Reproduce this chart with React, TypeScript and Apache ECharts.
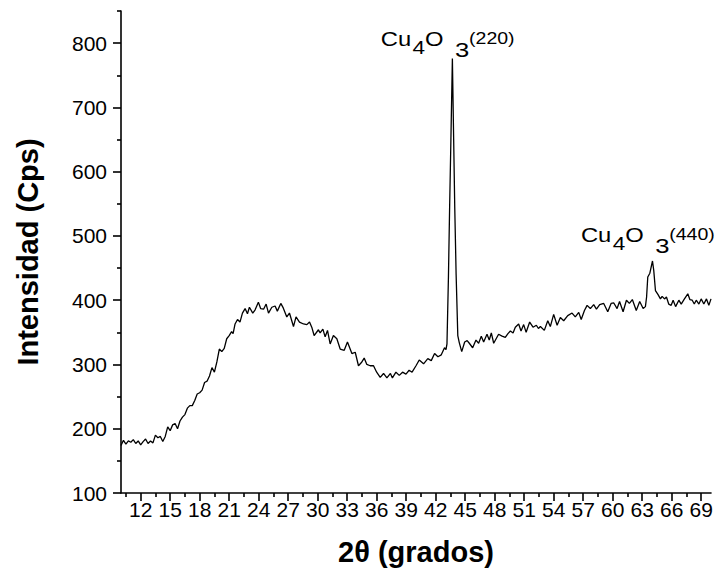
import React, { useEffect, useRef } from "react";
import * as echarts from "echarts";

// XRD scan: [2θ (degrees), intensity (counts per second)]
const amorphousRise: [number, number][] = [
  [10.0, 174], [10.25, 182], [10.5, 176], [10.75, 181], [11.0, 179], [11.25, 183],
  [11.5, 177], [11.75, 181], [12.0, 175], [12.25, 180], [12.5, 184], [12.75, 177],
  [13.0, 181], [13.25, 178], [13.5, 190], [13.75, 186], [14.0, 188], [14.25, 180],
  [14.5, 188], [14.75, 203], [15.0, 197], [15.25, 206], [15.5, 208], [15.75, 200],
  [16.0, 212], [16.25, 218], [16.5, 222], [16.75, 232], [17.0, 236], [17.25, 236],
  [17.5, 244], [17.75, 254], [18.0, 256], [18.25, 260], [18.5, 272], [18.75, 274],
  [19.0, 282], [19.25, 295], [19.5, 288], [19.75, 304], [20.0, 324], [20.25, 320],
  [20.5, 325], [20.75, 340], [21.0, 345], [21.25, 351], [21.4, 348], [21.6, 363],
  [21.85, 370], [22.1, 366], [22.35, 380],
];

const amorphousFall: [number, number][] = [
  [22.62, 387], [22.86, 379], [23.06, 389], [23.4, 380], [23.64, 385], [23.97, 397],
  [24.2, 387], [24.5, 386], [24.76, 394], [25.0, 380], [25.34, 389], [25.67, 391],
  [25.9, 383], [26.25, 395], [26.5, 388], [26.86, 374], [27.13, 380], [27.54, 359],
  [27.8, 374], [28.15, 366], [28.56, 363], [28.9, 362], [29.17, 366], [29.4, 358],
  [29.64, 345], [30.08, 354], [30.25, 349], [30.53, 355], [30.76, 343], [31.0, 353],
  [31.27, 332], [31.6, 345], [31.95, 340], [32.29, 324], [32.7, 322], [33.03, 335],
  [33.48, 317], [33.82, 319], [34.15, 298], [34.45, 303], [34.73, 310], [35.0, 300],
  [35.34, 298],
];

const valley: [number, number][] = [
  [35.68, 298], [36.0, 288], [36.36, 280], [36.7, 286], [37.04, 279], [37.4, 286],
  [37.6, 279], [37.96, 288], [38.3, 283], [38.63, 288], [38.98, 285], [39.3, 291],
  [39.6, 288], [40.0, 298], [40.33, 307], [40.77, 301], [41.2, 309], [41.55, 306],
  [41.89, 317], [42.23, 312], [42.57, 315], [42.9, 326], [43.05, 323],
];

const peak220: [number, number][] = [
  [43.15, 332], [43.3, 437], [43.42, 545], [43.55, 650], [43.7, 776], [43.83, 650],
  [43.94, 545], [44.08, 440], [44.25, 345], [44.4, 334], [44.65, 320],
];

const plateau: [number, number][] = [
  [44.95, 335], [45.2, 337], [45.42, 333], [45.76, 326], [46.1, 338], [46.37, 333],
  [46.64, 344], [46.88, 335], [47.22, 347], [47.45, 338], [47.66, 349], [47.9, 333],
  [48.15, 340], [48.4, 347], [48.75, 344], [49.08, 342], [49.35, 348], [49.6, 352],
  [49.87, 349], [50.1, 358], [50.44, 363], [50.68, 352], [50.95, 362], [51.2, 350],
  [51.56, 366], [51.9, 358], [52.24, 361], [52.45, 356], [52.65, 359], [53.05, 353],
  [53.4, 368], [53.66, 359], [54.0, 378], [54.35, 361], [54.68, 373], [55.02, 368],
  [55.43, 376], [55.87, 380], [56.2, 374], [56.55, 381], [56.8, 370], [57.13, 384],
  [57.4, 392], [57.73, 387], [58.07, 393], [58.35, 386], [58.68, 393], [59.09, 395],
  [59.5, 382], [59.84, 395], [60.1, 396], [60.45, 387], [60.7, 398], [61.06, 382],
  [61.4, 400], [61.7, 395], [62.0, 401], [62.4, 384], [62.75, 398], [63.1, 387],
  [63.33, 390],
];

const peak440: [number, number][] = [
  [63.45, 405], [63.57, 436], [63.78, 442], [64.05, 461], [64.18, 446], [64.35, 415],
  [64.6, 409], [64.86, 402],
];

const tail: [number, number][] = [
  [65.03, 406], [65.27, 402], [65.47, 405], [65.7, 394], [65.95, 392], [66.15, 400],
  [66.4, 390], [66.73, 400], [66.97, 394], [67.3, 402], [67.64, 410], [67.85, 401],
  [68.09, 400], [68.3, 394], [68.5, 400], [68.77, 394], [69.0, 402], [69.27, 394],
  [69.54, 402], [69.78, 392], [70.0, 402],
];

// Axis ticks
const xMajorTicks = [12, 15, 18, 21, 24, 27, 30, 33, 36, 39, 42, 45, 48, 51, 54, 57, 60, 63, 66, 69];
const xMinorTicks = [10.5, 13.5, 16.5, 19.5, 22.5, 25.5, 28.5, 31.5, 34.5, 37.5, 40.5, 43.5, 46.5, 49.5, 52.5, 55.5, 58.5, 61.5, 64.5, 67.5];
const yMajorTicks = [100, 200, 300, 400, 500, 600, 700, 800];
const yMinorTicks = [150, 250, 350, 450, 550, 650, 750, 850];

// Reflection labels, anchored at the apex of each peak
const reflections = [
  { hkl: "(220)", apex: [43.7, 776] },
  { hkl: "(440)", apex: [64.05, 461] },
];
// Height of the label baseline above each apex, in pixels
const labelLift = [12.6, 19.3];

const FONT = 'Arial, "Liberation Sans", Helvetica, sans-serif';
const INK = "#000";

function centreY(baseline: number, fontSize: number) {
  return baseline - 0.347 * fontSize;
}

function textEl(text: string, x: number, baseline: number, fontSize: number) {
  return {
    type: "text",
    x,
    y: centreY(baseline, fontSize),
    style: {
      text,
      fill: INK,
      fontSize,
      fontFamily: FONT,
      align: "left",
      verticalAlign: "middle",
      textAlign: "left",
      textVerticalAlign: "middle",
    },
    silent: true,
  };
}

function reflectionLabel(px: number[], hkl: string, lift: number) {
  const base = px[1] - lift;
  return {
    type: "group",
    x: px[0],
    y: 0,
    scaleX: 1.22,
    children: [
      textEl("Cu", -58.7, base, 19.5),
      textEl("4", -32.6, base + 7.6, 18.5),
      textEl("O", -22.4, base, 19.5),
      textEl("3", 2.2, base + 11, 21),
      textEl(hkl, 13.7, base - 1.7, 16),
    ],
  };
}

export default function App() {
  const ref = useRef<HTMLDivElement>(null);

  useEffect(() => {
    if (!ref.current) return;
    const chart = echarts.init(ref.current, undefined, { renderer: "svg" });
    const scan = [
      ...amorphousRise,
      ...amorphousFall,
      ...valley,
      ...peak220,
      ...plateau,
      ...peak440,
      ...tail,
    ];

    const axisLineStyle = { color: INK, width: 1.6 };
    const tickLabel = { fontSize: 21, color: INK, fontFamily: FONT };
    const titleStyle = { fontSize: 29, fontWeight: "bold", color: INK, fontFamily: FONT };

    chart.setOption({
      animation: false,
      backgroundColor: "#fff",
      grid: { left: 121, right: 9, top: 11, bottom: 87, containLabel: false, outerBoundsMode: "none" },
      xAxis: [
        {
          type: "value",
          min: 10,
          max: 70,
          position: "bottom",
          axisLine: { onZero: false, lineStyle: axisLineStyle },
          axisTick: { customValues: xMajorTicks, length: 8, lineStyle: axisLineStyle },
          axisLabel: { customValues: xMajorTicks, margin: 6, ...tickLabel },
          splitLine: { show: false },
          name: "2θ (grados)",
          nameLocation: "middle",
          nameGap: 44,
          nameTextStyle: titleStyle,
        },
        {
          type: "value",
          min: 10,
          max: 70,
          position: "bottom",
          axisLine: { show: false, onZero: false },
          axisTick: { customValues: xMinorTicks, length: 4, lineStyle: axisLineStyle },
          axisLabel: { show: false },
          splitLine: { show: false },
        },
      ],
      yAxis: [
        {
          type: "value",
          min: 100,
          max: 850,
          position: "left",
          axisLine: { show: true, onZero: false, lineStyle: axisLineStyle },
          axisTick: { show: true, customValues: yMajorTicks, length: 8, lineStyle: axisLineStyle },
          axisLabel: { customValues: yMajorTicks, margin: 14, ...tickLabel },
          splitLine: { show: false },
          name: "Intensidad (Cps)",
          nameLocation: "middle",
          nameGap: 79,
          nameTextStyle: titleStyle,
        },
        {
          type: "value",
          min: 100,
          max: 850,
          position: "left",
          axisLine: { show: false, onZero: false },
          axisTick: { show: true, customValues: yMinorTicks, length: 4, lineStyle: axisLineStyle },
          axisLabel: { show: false },
          splitLine: { show: false },
        },
      ],
      series: [
        {
          type: "line",
          data: scan,
          xAxisIndex: 0,
          yAxisIndex: 0,
          symbol: "none",
          showSymbol: false,
          lineStyle: { color: INK, width: 1.3 },
          z: 3,
        },
      ],
    });

    const labels = reflections.map((r, i) => {
      const px = chart.convertToPixel({ xAxisIndex: 0, yAxisIndex: 0 }, r.apex) as number[];
      return reflectionLabel(px, r.hkl, labelLift[i]);
    });
    chart.setOption({ graphic: labels });

    return () => chart.dispose();
  }, []);

  return (
    <div
      ref={ref}
      style={{ position: "fixed", left: 0, top: 0, width: 720, height: 580, background: "#fff" }}
    />
  );
}
